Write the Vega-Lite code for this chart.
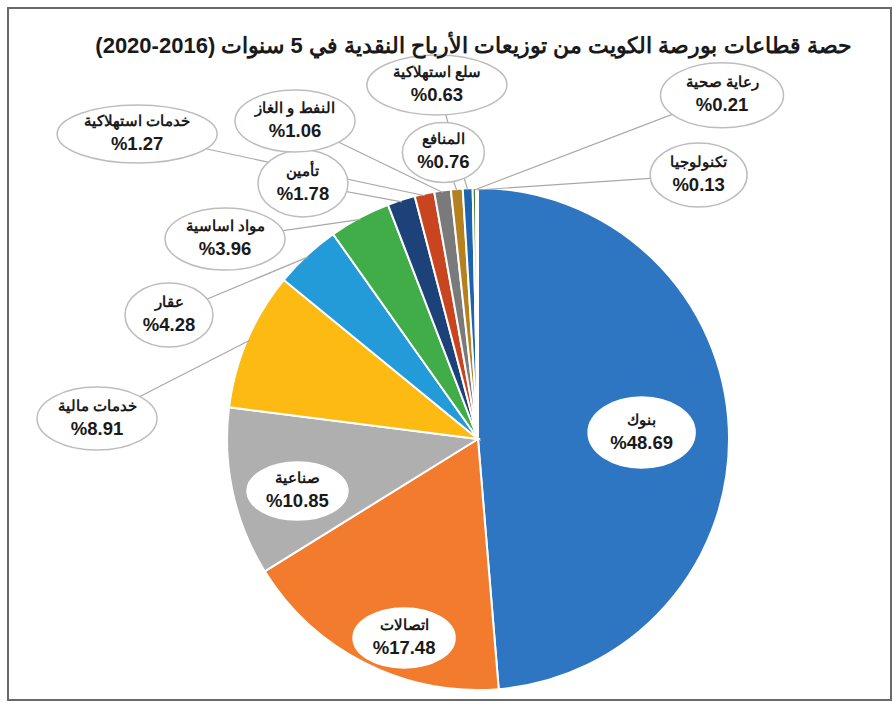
{
  "$schema": "https://vega.github.io/schema/vega-lite/v6.json",
  "width": 883,
  "height": 692,
  "autosize": {"type": "none"},
  "padding": {"left": 8, "top": 8, "right": 3, "bottom": 3},
  "background": "white",
  "config": {
    "view": {"stroke": "#6a6a6a", "strokeWidth": 2},
    "locale": {"number": {"decimal": ".", "thousands": ",", "grouping": [3], "currency": ["%", ""]}}
  },
  "title": {
    "text": "\u200fحصة قطاعات بورصة الكويت من توزيعات الأرباح النقدية في 5 سنوات (2016-2020)\u200f",
    "font": "Liberation Sans",
    "fontSize": 22,
    "fontWeight": "bold",
    "color": "#1a1a1a",
    "anchor": "middle",
    "offset": 0,
    "baseline": "middle",
    "dx": 24,
    "dy": 60
  },
  "datasets": {
    "sectors": [
      {"sector": "بنوك", "value": 48.69},
      {"sector": "اتصالات", "value": 17.48},
      {"sector": "صناعية", "value": 10.85},
      {"sector": "خدمات مالية", "value": 8.91},
      {"sector": "عقار", "value": 4.28},
      {"sector": "مواد اساسية", "value": 3.96},
      {"sector": "تأمين", "value": 1.78},
      {"sector": "خدمات استهلاكية", "value": 1.27},
      {"sector": "النفط و الغاز", "value": 1.06},
      {"sector": "المنافع", "value": 0.76},
      {"sector": "سلع استهلاكية", "value": 0.63},
      {"sector": "رعاية صحية", "value": 0.21},
      {"sector": "تكنولوجيا", "value": 0.13}
    ],
    "callouts": [
      {"sector": "بنوك", "lx": 65.7, "ly": 2.6},
      {"sector": "اتصالات", "lx": -29.7, "ly": -79.9},
      {"sector": "صناعية", "lx": -72.5, "ly": -20.9},
      {"sector": "خدمات مالية", "lx": -153.0, "ly": 8.2},
      {"sector": "عقار", "lx": -124.1, "ly": 49.8},
      {"sector": "مواد اساسية", "lx": -101.6, "ly": 80.3},
      {"sector": "تأمين", "lx": -70.3, "ly": 102.6},
      {"sector": "خدمات استهلاكية", "lx": -136.9, "ly": 122.5},
      {"sector": "النفط و الغاز", "lx": -73.5, "ly": 127.7},
      {"sector": "المنافع", "lx": -13.9, "ly": 115.1},
      {"sector": "سلع استهلاكية", "lx": -16.5, "ly": 142.2},
      {"sector": "رعاية صحية", "lx": 98.0, "ly": 138.0},
      {"sector": "تكنولوجيا", "lx": 88.6, "ly": 106.0}
    ]
  },
  "layer": [
    {
      "data": {"name": "sectors"},
      "transform": [{"window": [{"op": "row_number", "as": "idx"}]}],
      "mark": {"type": "arc", "outerRadius": 251, "stroke": "white", "strokeWidth": 2},
      "encoding": {
        "theta": {"field": "value", "type": "quantitative", "stack": true},
        "order": {"field": "idx", "type": "quantitative"},
        "color": {
          "field": "sector",
          "type": "nominal",
          "legend": null,
          "scale": {
            "domain": ["بنوك", "اتصالات", "صناعية", "خدمات مالية", "عقار", "مواد اساسية", "تأمين", "خدمات استهلاكية", "النفط و الغاز", "المنافع", "سلع استهلاكية", "رعاية صحية", "تكنولوجيا"],
            "range": ["#2E75C2", "#F37B2E", "#AFAFAF", "#FCBA12", "#229BD8", "#41AD49", "#1D4179", "#C9451F", "#7A7A7A", "#B5811F", "#1E63AD", "#3F7F3A", "#6FA8DC"]
          }
        },
        "x": {"datum": 0, "type": "quantitative", "scale": {"domain": [-188.76, 165.86], "nice": false, "zero": false}, "axis": null},
        "y": {"datum": 0, "type": "quantitative", "scale": {"domain": [-104.82, 173.09], "nice": false, "zero": false}, "axis": null}
      }
    },
    {
      "data": {"name": "sectors"},
      "transform": [
        {"window": [{"op": "sum", "field": "value", "as": "cum"}], "frame": [null, 0]},
        {"joinaggregate": [{"op": "sum", "field": "value", "as": "total"}]},
        {"calculate": "2 * PI * (datum.cum - datum.value / 2) / datum.total", "as": "ang"},
        {"calculate": "100 * sin(datum.ang)", "as": "ax"},
        {"calculate": "100 * cos(datum.ang)", "as": "ay"},
        {"lookup": "sector", "from": {"data": {"name": "callouts"}, "key": "sector", "fields": ["lx", "ly"]}},
        {"filter": "datum.value < 10"}
      ],
      "mark": {"type": "rule", "color": "#A8A8A8", "strokeWidth": 1.2},
      "encoding": {
        "x": {"field": "lx", "type": "quantitative"},
        "y": {"field": "ly", "type": "quantitative"},
        "x2": {"field": "ax"},
        "y2": {"field": "ay"}
      }
    },
    {
      "data": {"name": "callouts"},
      "transform": [{"lookup": "sector", "from": {"data": {"name": "sectors"}, "key": "sector", "fields": ["value"]}}],
      "mark": {"type": "point", "filled": true, "fill": "white", "size": 10000, "opacity": 1, "strokeWidth": 1.5},
      "encoding": {
        "x": {"field": "lx", "type": "quantitative"},
        "y": {"field": "ly", "type": "quantitative"},
        "stroke": {"condition": {"test": "datum.value > 10", "value": "white"}, "value": "#BDBDBD"},
        "shape": {
          "field": "sector",
          "type": "nominal",
          "legend": null,
          "scale": {
            "domain": ["بنوك", "اتصالات", "صناعية", "خدمات مالية", "عقار", "مواد اساسية", "تأمين", "خدمات استهلاكية", "النفط و الغاز", "المنافع", "سلع استهلاكية", "رعاية صحية", "تكنولوجيا"],
            "range": [
              "M1.07,0C1.07,0.392 0.591,0.71 0,0.71C-0.591,0.71 -1.07,0.392 -1.07,0C-1.07,-0.392 -0.591,-0.71 0,-0.71C0.591,-0.71 1.07,-0.392 1.07,0Z",
              "M1.02,0C1.02,0.331 0.563,0.6 0,0.6C-0.563,0.6 -1.02,0.331 -1.02,0C-1.02,-0.331 -0.563,-0.6 0,-0.6C0.563,-0.6 1.02,-0.331 1.02,0Z",
              "M1.01,0C1.01,0.32 0.558,0.58 0,0.58C-0.558,0.58 -1.01,0.32 -1.01,0C-1.01,-0.32 -0.558,-0.58 0,-0.58C0.558,-0.58 1.01,-0.32 1.01,0Z",
              "M1.2,0C1.2,0.348 0.663,0.63 0,0.63C-0.663,0.63 -1.2,0.348 -1.2,0C-1.2,-0.348 -0.663,-0.63 0,-0.63C0.663,-0.63 1.2,-0.348 1.2,0Z",
              "M0.88,0C0.88,0.353 0.486,0.64 0,0.64C-0.486,0.64 -0.88,0.353 -0.88,0C-0.88,-0.353 -0.486,-0.64 0,-0.64C0.486,-0.64 0.88,-0.353 0.88,0Z",
              "M1.2,0C1.2,0.342 0.663,0.62 0,0.62C-0.663,0.62 -1.2,0.342 -1.2,0C-1.2,-0.342 -0.663,-0.62 0,-0.62C0.663,-0.62 1.2,-0.342 1.2,0Z",
              "M0.9,0C0.9,0.37 0.497,0.67 0,0.67C-0.497,0.67 -0.9,0.37 -0.9,0C-0.9,-0.37 -0.497,-0.67 0,-0.67C0.497,-0.67 0.9,-0.37 0.9,0Z",
              "M1.6,0C1.6,0.32 0.884,0.58 0,0.58C-0.884,0.58 -1.6,0.32 -1.6,0C-1.6,-0.32 -0.884,-0.58 0,-0.58C0.884,-0.58 1.6,-0.32 1.6,0Z",
              "M1.2,0C1.2,0.342 0.663,0.62 0,0.62C-0.663,0.62 -1.2,0.342 -1.2,0C-1.2,-0.342 -0.663,-0.62 0,-0.62C0.663,-0.62 1.2,-0.342 1.2,0Z",
              "M0.82,0C0.82,0.331 0.453,0.6 0,0.6C-0.453,0.6 -0.82,0.331 -0.82,0C-0.82,-0.331 -0.453,-0.6 0,-0.6C0.453,-0.6 0.82,-0.331 0.82,0Z",
              "M1.4,0C1.4,0.331 0.773,0.6 0,0.6C-0.773,0.6 -1.4,0.331 -1.4,0C-1.4,-0.331 -0.773,-0.6 0,-0.6C0.773,-0.6 1.4,-0.331 1.4,0Z",
              "M1.23,0C1.23,0.359 0.679,0.65 0,0.65C-0.679,0.65 -1.23,0.359 -1.23,0C-1.23,-0.359 -0.679,-0.65 0,-0.65C0.679,-0.65 1.23,-0.359 1.23,0Z",
              "M0.97,0C0.97,0.353 0.536,0.64 0,0.64C-0.536,0.64 -0.97,0.353 -0.97,0C-0.97,-0.353 -0.536,-0.64 0,-0.64C0.536,-0.64 0.97,-0.353 0.97,0Z"
            ]
          }
        }
      }
    },
    {
      "data": {"name": "callouts"},
      "mark": {"type": "text", "font": "Liberation Sans", "fontSize": 14.5, "fontWeight": "bold", "color": "#1a1a1a", "baseline": "middle", "align": "center", "dy": -12},
      "encoding": {
        "x": {"field": "lx", "type": "quantitative"},
        "y": {"field": "ly", "type": "quantitative"},
        "text": {"field": "sector", "type": "nominal"}
      }
    },
    {
      "data": {"name": "callouts"},
      "transform": [{"lookup": "sector", "from": {"data": {"name": "sectors"}, "key": "sector", "fields": ["value"]}}],
      "mark": {"type": "text", "font": "Liberation Sans", "fontSize": 18.5, "fontWeight": "bold", "color": "#1a1a1a", "baseline": "middle", "align": "center", "dy": 10},
      "encoding": {
        "x": {"field": "lx", "type": "quantitative"},
        "y": {"field": "ly", "type": "quantitative"},
        "text": {"field": "value", "type": "quantitative", "format": "$.2f"}
      }
    }
  ]
}
